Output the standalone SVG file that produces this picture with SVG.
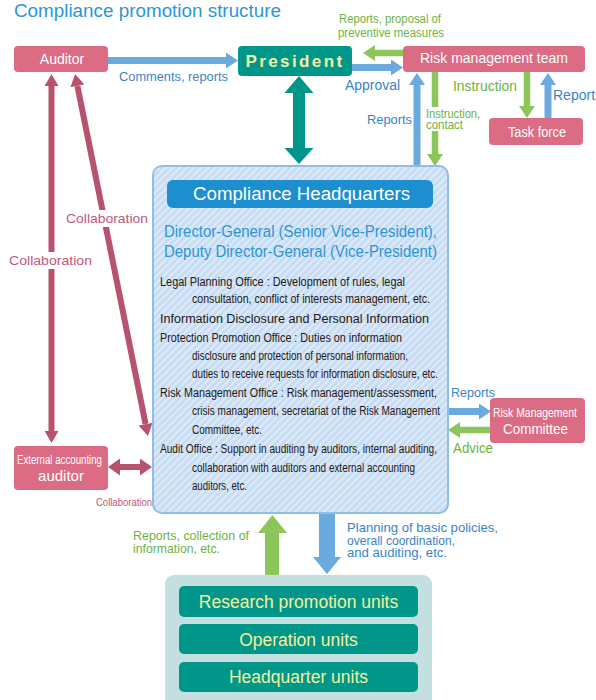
<svg xmlns="http://www.w3.org/2000/svg" width="596" height="700" viewBox="0 0 596 700">
  <style>
    text { font-family: "Liberation Sans", Arial, sans-serif; }
    .box-pink { fill: #dc6b84; }
    .box-teal { fill: #00978a; }
    .w { fill: #ffffff; }
    .yl { fill: #f3f0a2; }
    .lb { fill: #3a84c6; }
    .lg { fill: #6cb33e; }
    .lp { fill: #c0587a; }
    .body { fill: #231815; font-size: 12.5px; }
    .ln-b { stroke: #6aaadf; stroke-width: 7; fill: none; }
    .ln-g { stroke: #8cc65b; stroke-width: 6.5; fill: none; }
    .ln-p { stroke: #b8526f; stroke-width: 6; fill: none; }
  </style>
  <defs>
    <marker id="headB" markerUnits="userSpaceOnUse" markerWidth="12" markerHeight="16" refX="0" refY="8" orient="auto">
      <path d="M0,0 L12,8 L0,16 z" fill="#6aaadf"/>
    </marker>
    <marker id="headG" markerUnits="userSpaceOnUse" markerWidth="12" markerHeight="16" refX="0" refY="8" orient="auto">
      <path d="M0,0 L12,8 L0,16 z" fill="#8cc65b"/>
    </marker>
    <marker id="headP" markerUnits="userSpaceOnUse" markerWidth="12" markerHeight="14" refX="0" refY="7" orient="auto-start-reverse">
      <path d="M0,0 L12,7 L0,14 z" fill="#b8526f"/>
    </marker>
    <marker id="headP2" markerUnits="userSpaceOnUse" markerWidth="12" markerHeight="17" refX="0" refY="8.5" orient="auto-start-reverse">
      <path d="M0,0 L12,8.5 L0,17 z" fill="#b8526f"/>
    </marker>
    <pattern id="hatch" patternUnits="userSpaceOnUse" width="5" height="5" patternTransform="rotate(45)">
      <rect width="5" height="5" fill="#c8dcf3"/>
      <line x1="0.8" y1="0" x2="0.8" y2="5" stroke="#e6f0fb" stroke-width="1.4"/>
    </pattern>
  </defs>

  <!-- heading -->
  <text x="14" y="17" font-size="17.5" fill="#2b96d6" textLength="267" lengthAdjust="spacingAndGlyphs">Compliance promotion structure</text>

  <!-- connectors -->
  <g id="connectors">
    <!-- auditor to president -->
    <line class="ln-b" x1="108" y1="60.5" x2="226" y2="60.5" marker-end="url(#headB)"/>
    <!-- risk team <-> president -->
    <line class="ln-g" x1="403" y1="53" x2="375" y2="53" marker-end="url(#headG)"/>
    <line class="ln-b" x1="352" y1="67.5" x2="391" y2="67.5" marker-end="url(#headB)"/>
    <!-- headquarters <-> risk team -->
    <line class="ln-b" x1="417" y1="166" x2="417" y2="85" marker-end="url(#headB)"/>
    <line class="ln-g" x1="435" y1="72" x2="435" y2="154" marker-end="url(#headG)"/>
    <!-- risk team <-> task force -->
    <line class="ln-g" x1="527" y1="72" x2="527" y2="106" marker-end="url(#headG)"/>
    <line class="ln-b" x1="548" y1="118" x2="548" y2="85" marker-end="url(#headB)"/>
    <!-- president <-> headquarters -->
    <polygon fill="#00978a" points="299,76 313.5,93 305,93 305,148 313.5,148 299,164 284.5,148 293,148 293,93 284.5,93"/>
    <!-- auditor collaborations -->
    <line class="ln-p" x1="51.5" y1="86" x2="51.5" y2="431" marker-start="url(#headP)" marker-end="url(#headP)"/>
    <line class="ln-p" x1="77.4" y1="85.8" x2="145.6" y2="424.2" marker-start="url(#headP)" marker-end="url(#headP)"/>
    <line class="ln-p" x1="120" y1="467" x2="140" y2="467" stroke-width="7" marker-start="url(#headP2)" marker-end="url(#headP2)"/>
    <!-- headquarters <-> risk management committee -->
    <line class="ln-b" x1="448" y1="411.5" x2="479" y2="411.5" marker-end="url(#headB)"/>
    <line class="ln-g" x1="490" y1="430" x2="460" y2="430" marker-end="url(#headG)"/>
    <!-- headquarters <-> units -->
    <polygon fill="#8cc65b" points="272.5,515 287,533 279,533 279,575 265,575 265,533 258,533"/>
    <polygon fill="#6aaadf" points="319,513 335,513 335,557 341,557 327,574 313,557 319,557"/>

    <!-- connector labels -->
    <text class="lb" x="119" y="81" font-size="13" textLength="109" lengthAdjust="spacingAndGlyphs">Comments, reports</text>
    <text class="lg" x="339" y="23" font-size="12.5" textLength="102" lengthAdjust="spacingAndGlyphs">Reports, proposal of</text>
    <text class="lg" x="338" y="37" font-size="12.5" textLength="106" lengthAdjust="spacingAndGlyphs">preventive measures</text>
    <text class="lb" x="345" y="90" font-size="14" textLength="55" lengthAdjust="spacingAndGlyphs">Approval</text>
    <text class="lb" x="367" y="124" font-size="13" textLength="45" lengthAdjust="spacingAndGlyphs">Reports</text>
    <rect x="425" y="107" width="56" height="24" fill="#ffffff"/>
    <text class="lg" x="426" y="118" font-size="12" textLength="54" lengthAdjust="spacingAndGlyphs">Instruction,</text>
    <text class="lg" x="426" y="129" font-size="12" textLength="37" lengthAdjust="spacingAndGlyphs">contact</text>
    <text class="lg" x="453" y="91" font-size="14" textLength="64" lengthAdjust="spacingAndGlyphs">Instruction</text>
    <text class="lb" x="553" y="100" font-size="14">Reports</text>
    <rect x="8" y="252" width="85" height="17" fill="#ffffff"/>
    <text class="lp" x="9" y="265" font-size="13.5" textLength="83" lengthAdjust="spacingAndGlyphs">Collaboration</text>
    <rect x="65" y="210" width="84" height="17" fill="#ffffff"/>
    <text class="lp" x="66" y="223" font-size="13.5" textLength="82" lengthAdjust="spacingAndGlyphs">Collaboration</text>
    <text class="lp" x="96" y="506" font-size="11" textLength="56" lengthAdjust="spacingAndGlyphs">Collaboration</text>
    <text class="lb" x="451" y="397" font-size="13.5" textLength="44" lengthAdjust="spacingAndGlyphs">Reports</text>
    <text class="lg" x="453" y="453" font-size="14" textLength="40" lengthAdjust="spacingAndGlyphs">Advice</text>
    <text class="lg" x="133" y="540" font-size="13" textLength="116" lengthAdjust="spacingAndGlyphs">Reports, collection of</text>
    <text class="lg" x="133" y="553" font-size="13" textLength="87" lengthAdjust="spacingAndGlyphs">information, etc.</text>
    <text class="lb" x="347" y="532" font-size="13" textLength="151" lengthAdjust="spacingAndGlyphs">Planning of basic policies,</text>
    <text class="lb" x="347" y="545" font-size="13" textLength="108" lengthAdjust="spacingAndGlyphs">overall coordination,</text>
    <text class="lb" x="347" y="557" font-size="13" textLength="100" lengthAdjust="spacingAndGlyphs">and auditing, etc.</text>
  </g>

  <!-- nodes -->
  <g id="auditor">
    <rect class="box-pink" x="14" y="46" width="94" height="26" rx="4"/>
    <text class="w" x="62" y="64" font-size="14" text-anchor="middle">Auditor</text>
  </g>

  <g id="president">
    <rect class="box-teal" x="238" y="46" width="114" height="30" rx="4"/>
    <text class="yl" x="295" y="67" font-size="17" font-weight="bold" letter-spacing="2.4" text-anchor="middle">President</text>
  </g>

  <g id="risk-team">
    <rect class="box-pink" x="403" y="46" width="182" height="26" rx="4"/>
    <text class="w" x="420" y="63" font-size="14.5" textLength="148" lengthAdjust="spacingAndGlyphs">Risk management team</text>
  </g>

  <g id="task-force">
    <rect class="box-pink" x="489" y="118" width="94" height="27" rx="4"/>
    <text class="w" x="508" y="137" font-size="14" textLength="58" lengthAdjust="spacingAndGlyphs">Task force</text>
  </g>

  <g id="external-auditor">
    <rect class="box-pink" x="14" y="446" width="94" height="44" rx="4"/>
    <text class="w" x="17" y="464" font-size="12" textLength="85" lengthAdjust="spacingAndGlyphs">External accounting</text>
    <text class="w" x="61" y="481" font-size="15" text-anchor="middle">auditor</text>
  </g>

  <g id="risk-committee">
    <rect class="box-pink" x="490" y="398" width="95" height="45" rx="4"/>
    <text class="w" x="493" y="417" font-size="12.5" textLength="84" lengthAdjust="spacingAndGlyphs">Risk Management</text>
    <text class="w" x="503" y="434" font-size="14.5" textLength="65" lengthAdjust="spacingAndGlyphs">Committee</text>
  </g>

  <g id="headquarters">
    <rect x="153" y="166" width="295" height="347" rx="9" fill="url(#hatch)" stroke="#8dbfe9" stroke-width="2"/>
    <rect x="167" y="180" width="266" height="28" rx="6" fill="#1d8fd0"/>
    <text class="w" x="193" y="200" font-size="18" textLength="217" lengthAdjust="spacingAndGlyphs">Compliance Headquarters</text>
    <text x="164" y="237" font-size="16" fill="#2b96d6" textLength="273" lengthAdjust="spacingAndGlyphs">Director-General (Senior Vice-President),</text>
    <text x="164" y="257" font-size="16" fill="#2b96d6" textLength="273" lengthAdjust="spacingAndGlyphs">Deputy Director-General (Vice-President)</text>
    <text class="body" x="160" y="286" textLength="245" lengthAdjust="spacingAndGlyphs">Legal Planning Office : Development of rules, legal</text>
    <text class="body" x="192" y="303" font-size="12" textLength="238" lengthAdjust="spacingAndGlyphs">consultation, conflict of interests management, etc.</text>
    <text class="body" x="160" y="323" font-size="13.5" textLength="269" lengthAdjust="spacingAndGlyphs">Information Disclosure and Personal Information</text>
    <text class="body" x="160" y="342" textLength="242" lengthAdjust="spacingAndGlyphs">Protection Promotion Office : Duties on information</text>
    <text class="body" x="192" y="360" font-size="12" textLength="216" lengthAdjust="spacingAndGlyphs">disclosure and protection of personal information,</text>
    <text class="body" x="192" y="378" font-size="12" textLength="246" lengthAdjust="spacingAndGlyphs">duties to receive requests for information disclosure, etc.</text>
    <text class="body" x="160" y="397" textLength="277" lengthAdjust="spacingAndGlyphs">Risk Management Office : Risk management/assessment,</text>
    <text class="body" x="192" y="415" font-size="12" textLength="248" lengthAdjust="spacingAndGlyphs">crisis management, secretariat of the Risk Management</text>
    <text class="body" x="192" y="434" font-size="12" textLength="70" lengthAdjust="spacingAndGlyphs">Committee, etc.</text>
    <text class="body" x="160" y="453" textLength="277" lengthAdjust="spacingAndGlyphs">Audit Office : Support in auditing by auditors, internal auditing,</text>
    <text class="body" x="192" y="472" font-size="12" textLength="223" lengthAdjust="spacingAndGlyphs">collaboration with auditors and external accounting</text>
    <text class="body" x="192" y="490" font-size="12" textLength="55" lengthAdjust="spacingAndGlyphs">auditors, etc.</text>
  </g>

  <g id="units">
    <rect x="165" y="575" width="267" height="140" rx="9" fill="#c4dfdf"/>
    <g id="research-units">
      <rect class="box-teal" x="179" y="586" width="239" height="31" rx="5"/>
      <text class="yl" x="298.5" y="608" font-size="17.5" text-anchor="middle">Research promotion units</text>
    </g>
    <g id="operation-units">
      <rect class="box-teal" x="179" y="624" width="239" height="30" rx="5"/>
      <text class="yl" x="298.5" y="646" font-size="17.5" text-anchor="middle">Operation units</text>
    </g>
    <g id="headquarter-units">
      <rect class="box-teal" x="179" y="662" width="239" height="30" rx="5"/>
      <text class="yl" x="298.5" y="683" font-size="17.5" text-anchor="middle">Headquarter units</text>
    </g>
  </g>
</svg>
